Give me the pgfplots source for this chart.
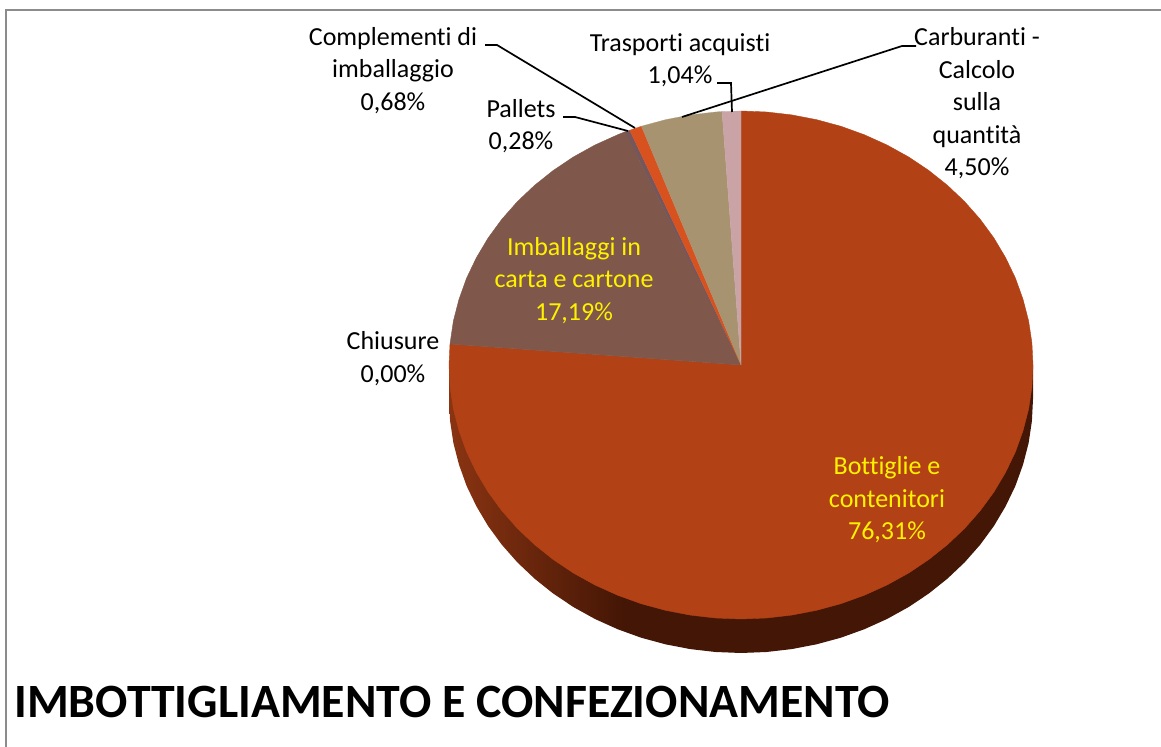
\documentclass[border=0pt]{standalone}
\usepackage{fontspec}
\setmainfont{Carlito}[Ligatures=NoCommon]
\usepackage{pgfplots}
\pgfplotsset{compat=1.18}

\definecolor{bott}{HTML}{B34116}
\definecolor{imba}{HTML}{7F574B}
\definecolor{pall}{HTML}{75565A}
\definecolor{comp}{HTML}{D85220}
\definecolor{carb}{HTML}{A79370}
\definecolor{tras}{HTML}{C9A3A5}
\definecolor{rimL}{HTML}{8A3412}
\definecolor{rimD}{HTML}{441605}
\definecolor{frame}{HTML}{8C8C8C}
\pgfdeclarehorizontalshading{rim}{100bp}{color(0bp)=(rimL); color(25bp)=(rimL); color(40bp)=(rimD); color(100bp)=(rimD)}

\begin{document}
\begin{tikzpicture}
\begin{axis}[
    width=580.5pt, height=373.5pt,
    scale only axis,
    hide axis,
    xmin=0, xmax=1161,
    ymin=0, ymax=747,
    y dir=reverse,
    clip=false,
    no markers,
]
\path[use as bounding box] (axis cs:0,0) rectangle (axis cs:1161,747);

% frame, only top and left show
\addplot[draw=frame, line width=1pt] coordinates {(6,747) (6,10) (1161,10)};

% side of the pie
\addplot[draw=none, shade, shading=rim] coordinates {
    (449,365) (449,399) (450.1,421.1) (453.4,443.1) (459,464.7) (466.6,485.9) (476.4,506.3)
    (488.1,526) (501.8,544.7) (517.3,562.3) (534.5,578.6) (553.3,593.6) (573.5,607.1)
    (595,619) (617.6,629.2) (641.1,637.7) (665.4,644.3) (690.3,649.1) (715.5,652) (741,653)
    (766.5,652) (791.7,649.1) (816.6,644.3) (840.9,637.7) (864.4,629.2) (887,619)
    (908.5,607.1) (928.7,593.6) (947.5,578.6) (964.7,562.3) (980.2,544.7) (993.9,526)
    (1005.6,506.3) (1015.4,485.9) (1023,464.7) (1028.6,443.1) (1031.9,421.1) (1033,399) (1033,365)
};

% Bottiglie e contenitori 76,31
\addplot[fill=bott, draw=bott, line width=0.2pt] coordinates {
    (741,365) (741,111) (766.5,112) (791.7,114.9) (816.6,119.7) (840.9,126.3) (864.4,134.8)
    (887,145) (908.5,156.9) (928.7,170.4) (947.5,185.4) (964.7,201.7) (980.2,219.3) (993.9,238)
    (1005.6,257.7) (1015.4,278.1) (1023,299.3) (1028.6,320.9) (1031.9,342.9) (1033,365)
    (1031.9,387.1) (1028.6,409.1) (1023,430.7) (1015.4,451.9) (1005.6,472.3) (993.9,492)
    (980.2,510.7) (964.7,528.3) (947.5,544.6) (928.7,559.6) (908.5,573.1) (887,585)
    (864.4,595.2) (840.9,603.7) (816.6,610.3) (791.7,615.1) (766.5,618) (741,619)
    (715.5,618) (690.3,615.1) (665.4,610.3) (641.1,603.7) (617.6,595.2) (595,585)
    (573.5,573.1) (553.3,559.6) (534.5,544.6) (517.3,528.3) (501.8,510.7) (488.1,492)
    (476.4,472.3) (466.6,451.9) (459,430.7) (453.4,409.1) (450.1,387.1) (449,365) (450,344)
    (741,365)
};
% Imballaggi in carta e cartone 17,19
\addplot[fill=imba, draw=imba, line width=0.2pt] coordinates {
    (741,365) (450,344) (453.4,320.9) (459,299.3) (466.6,278.1) (476.4,257.7) (488.1,238)
    (501.8,219.3) (517.3,201.7) (534.5,185.4) (553.3,170.4) (573.5,156.9) (595,145)
    (617.6,134.8) (625.1,131.8) (741,365)
};
% Pallets 0,28
\addplot[fill=pall, draw=pall, line width=0.1pt] coordinates {(741,365) (625.1,131.8) (629.7,130.2) (741,365)};
% Complementi di imballaggio 0,68
\addplot[fill=comp, draw=comp, line width=0.1pt] coordinates {(741,365) (629.7,130.2) (641.4,126.2) (741,365)};
% Carburanti 4,50
\addplot[fill=carb, draw=carb, line width=0.1pt] coordinates {
    (741,365) (641.4,126.2) (665.4,119.7) (690.3,114.9) (715.5,112) (722,111.5) (741,365)
};
% Trasporti acquisti 1,04
\addplot[fill=tras, draw=tras, line width=0.1pt] coordinates {(741,365) (722,111.5) (741,111) (741,365)};

% leader lines
\addplot[black, line width=0.85pt] coordinates {(485,45) (497,45) (635,128)};
\addplot[black, line width=0.85pt] coordinates {(563,117) (575,117) (628,131)};
\addplot[black, line width=0.85pt] coordinates {(717,83) (731,83) (732,112)};
\addplot[black, line width=0.85pt] coordinates {(682,117) (902,46) (916,46)};

% labels
\tikzset{lab/.style={align=center, font=\fontsize{13}{16.25}\selectfont, inner sep=0pt}}
\node[lab] at (axis cs:393,70.5) {Complementi di\\imballaggio\\0,68\%};
\node[lab] at (axis cs:680,60) {Trasporti acquisti\\1,04\%};
\node[lab] at (axis cs:977,103.5) {Carburanti -\\Calcolo\\sulla\\quantità\\4,50\%};
\node[lab] at (axis cs:521,126) {Pallets\\0,28\%};
\node[lab] at (axis cs:393,358.5) {Chiusure\\0,00\%};
\node[lab, text=yellow] at (axis cs:574,280.5) {Imballaggi in\\carta e cartone\\17,19\%};
\node[lab, text=yellow] at (axis cs:887,500) {Bottiglie e\\contenitori\\76,31\%};

\node[anchor=base west, inner sep=0pt, font=\fontsize{23.9}{28}\selectfont\bfseries] at (axis cs:14,718) {IMBOTTIGLIAMENTO E CONFEZIONAMENTO};
\end{axis}
\end{tikzpicture}
\end{document}
